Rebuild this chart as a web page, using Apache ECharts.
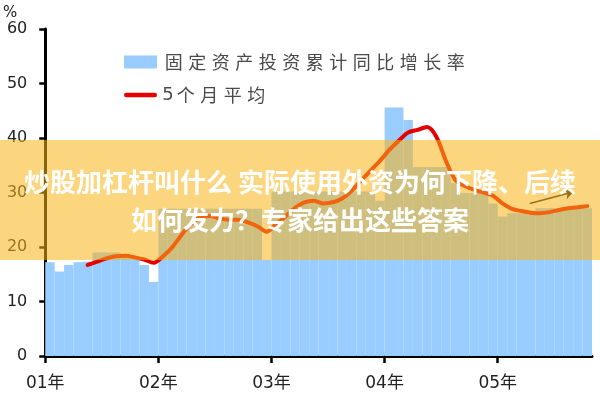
<!DOCTYPE html>
<html>
<head>
<meta charset="utf-8">
<script src="https://cdn.jsdelivr.net/npm/echarts@6/dist/echarts.min.js"></script>
<style>html,body{margin:0;padding:0;background:#fff}#c{width:600px;height:400px}</style>
</head>
<body>
<div id="c"></div>
<script>
// ---- data ----
const yearLabels = ['01年', '02年', '03年', '04年', '05年'];
const yearTickPos = [0, 12, 24, 36, 48];
const months = [];
for (let y = 2001; y <= 2005; y++) for (let m = 1; m <= 12; m++) months.push(y + '-' + (m < 10 ? '0' + m : m));
months.length = 58; // Jan 2001 .. Oct 2005

const seriesBarName = '固定资产投资累计同比增长率';
const seriesLineName = '5个月平均';

const barValues = [
  17.2, 15.5, 16.7, 17.2, 17.3, 19.0, 19.0, 19.0, 18.2, 18.2, 16.7, 13.6,
  27.0, 27.0, 27.0, 27.0, 27.0, 27.0, 27.0, 27.0, 27.0, 27.0, 27.0, 17.6,
  30.2, 30.2, 30.2, 30.2, 30.2, 30.2, 30.2, 30.2, 30.2, 30.2, 30.2, 28.5,
  45.6, 45.6, 43.3, 34.7, 34.7, 34.7, 34.7, 31.7, 29.9, 29.9, 29.9, 28.0,
  25.6, 26.2, 26.2, 26.2, 27.1, 27.1, 27.1, 27.1, 27.1, 27.1
];

const avgValues = [
  null, null, null, null, 16.7, 17.3, 17.9, 18.3, 18.4, 18.1, 17.7, 17.1,
  18.3, 20.0, 22.3, 24.3, 25.5, 25.7, 25.2, 25.0, 25.0, 24.5, 23.8, 22.8,
  24.2, 25.6, 27.2, 28.2, 28.5, 28.0, 28.2, 28.9, 30.3, 32.2, 34.0, 35.8,
  37.8, 39.5, 41.0, 41.5, 42.0, 40.2, 35.8, 32.3, 31.2, 30.5, 30.0, 29.4,
  28.0, 27.0, 26.6, 26.3, 26.2, 26.4, 26.8, 27.1, 27.3, 27.5
];

const arrowFrom = [51.4, 28.0];
const arrowTo = [56.0, 30.1];

const yTicks = { min: 0, max: 60, interval: 10 };

const bannerLine1 = '炒股加杠杆叫什么 实际使用外资为何下降、后续';
const bannerLine2 = '如何发力？专家给出这些答案';

// ---- chart ----
const linePoints = avgValues.map((v, i) => [i + 0.5, v]).filter(p => p[1] !== null);

const chart = echarts.init(document.getElementById('c'));
const numFont = '"DejaVu Sans", "Noto Sans CJK SC", sans-serif';
const cjkFont = '"Noto Sans CJK SC", sans-serif';

chart.setOption({
  animation: false,
  backgroundColor: '#fff',
  grid: { left: 44, right: 8, top: 29, bottom: 44 },
  legend: {
    orient: 'vertical',
    left: 119,
    top: 48,
    itemWidth: 33,
    itemHeight: 13,
    itemGap: 15,
    selectedMode: false,
    data: [
      { name: seriesBarName, icon: 'rect' },
      { name: seriesLineName, icon: 'path://M2.5,0 L32.5,0 A2.5,2.5 0 0 1 32.5,5 L2.5,5 A2.5,2.5 0 0 1 2.5,0 Z', itemStyle: { color: '#e60000' } }
    ],
    formatter: function (name) {
      return name.split('').map(ch => (/[0-9]/.test(ch) ? '{d|' + ch + '}' : '{c|' + ch + '}')).join('');
    },
    textStyle: {
      lineHeight: 18,
      rich: {
        c: { width: 23.5, align: 'center', fontSize: 18, lineHeight: 18, color: '#4a4a4a', fontFamily: cjkFont },
        d: { width: 12, align: 'center', fontSize: 18, lineHeight: 18, color: '#4a4a4a', fontFamily: numFont }
      }
    }
  },
  xAxis: [
    {
      type: 'category',
      data: months,
      boundaryGap: true,
      show: false
    },
    {
      type: 'value',
      min: 0,
      max: months.length,
      interval: 12,
      position: 'bottom',
      splitLine: { show: false },
      axisLine: { show: true, lineStyle: { color: '#000', width: 3 } },
      axisTick: { show: true, length: 7, lineStyle: { color: '#000', width: 2.5 }, customValues: yearTickPos },
      axisLabel: {
        customValues: yearTickPos,
        formatter: v => yearLabels[yearTickPos.indexOf(v)] || '',
        color: '#222',
        fontSize: 17,
        fontFamily: numFont,
        margin: 19
      }
    }
  ],
  yAxis: {
    type: 'value',
    min: yTicks.min,
    max: yTicks.max,
    interval: yTicks.interval,
    name: '%',
    nameLocation: 'end',
    nameGap: 8,
    nameTextStyle: { color: '#222', fontSize: 15, fontFamily: numFont, align: 'right', padding: [0, 28, 0, 0] },
    splitLine: { show: false },
    axisLine: { show: true, lineStyle: { color: '#000', width: 3 } },
    axisTick: { show: true, length: 6, lineStyle: { color: '#000', width: 2.5 } },
    axisLabel: { color: '#222', fontSize: 16, fontFamily: numFont, margin: 18 }
  },
  series: [
    {
      name: seriesBarName,
      type: 'bar',
      xAxisIndex: 0,
      data: barValues,
      barCategoryGap: '0%',
      itemStyle: { color: '#99ccff' },
      z: 1
    },
    {
      name: seriesLineName,
      type: 'line',
      xAxisIndex: 1,
      data: linePoints,
      smooth: 0.3,
      symbol: 'none',
      lineStyle: { color: '#e60000', width: 4, cap: 'round' },
      itemStyle: { color: '#e60000' },
      z: 3,
      markLine: {
        silent: true,
        symbol: ['none', 'arrow'],
        symbolSize: 8,
        label: { show: false },
        lineStyle: { color: '#222', width: 1.5, type: 'solid' },
        data: [[{ coord: arrowFrom }, { coord: arrowTo }]]
      }
    }
  ],
  graphic: [
    {
      type: 'rect',
      shape: { x: 0, y: 140, width: 600, height: 120 },
      style: { fill: 'rgba(249,180,22,0.55)' },
      z: 100,
      silent: true
    },
    {
      type: 'text',
      x: 300, y: 182,
      style: { text: bannerLine1, fill: '#fff', font: 'bold 26px "Noto Sans CJK SC"', align: 'center', verticalAlign: 'middle' },
      z: 101
    },
    {
      type: 'text',
      x: 300, y: 220,
      style: { text: bannerLine2, fill: '#fff', font: 'bold 26px "Noto Sans CJK SC"', align: 'center', verticalAlign: 'middle' },
      z: 101
    }
  ]
});
</script>
</body>
</html>
